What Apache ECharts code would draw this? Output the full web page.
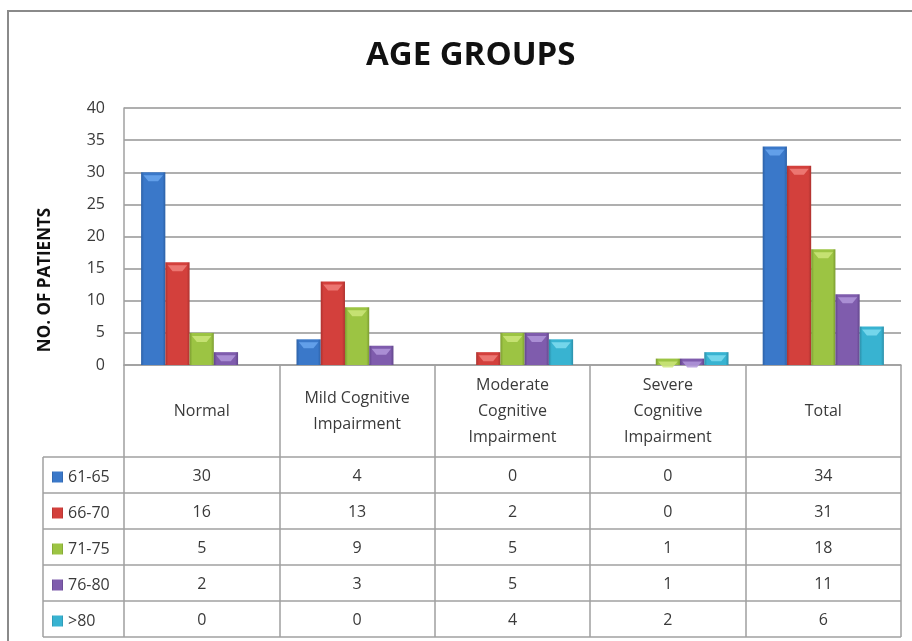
<!DOCTYPE html>
<html>
<head>
<meta charset="utf-8">
<script src="https://cdn.jsdelivr.net/npm/echarts@6/dist/echarts.min.js"></script>
<style>
  html, body { margin: 0; padding: 0; background: #ffffff; }
  #chart { width: 912px; height: 641px; }
</style>
</head>
<body>
<div id="chart"></div>
<script>
// Categories along the x axis (header row of the data table)
const categories = ['Normal', 'Mild Cognitive\nImpairment', 'Moderate\nCognitive\nImpairment', 'Severe\nCognitive\nImpairment', 'Total'];
// Age groups (one bar series + one table row each)
const ageGroups = ['61-65', '66-70', '71-75', '76-80', '>80'];
// Number of patients per category for each age group
const age61to65 = [30, 4, 0, 0, 34];
const age66to70 = [16, 13, 2, 0, 31];
const age71to75 = [5, 9, 5, 1, 18];
const age76to80 = [2, 3, 5, 1, 11];
const ageOver80 = [0, 0, 4, 2, 6];
// Value axis ticks
const yMin = 0, yMax = 40, yStep = 5;

const seriesValues = [age61to65, age66to70, age71to75, age76to80, ageOver80];

// Shades per series: [edge, body, highlight]
const palette = [
  ['#2d61a6', '#3a78c9', '#6aa6ee'],
  ['#ad322f', '#d3403c', '#f0807a'],
  ['#7c9c31', '#9cc443', '#cde67a'],
  ['#62468b', '#7f5cad', '#b196da'],
  ['#2c8fa9', '#38b3d1', '#7fdcf0']
];

function bevelFill(c) {
  return new echarts.graphic.LinearGradient(0, 0, 1, 0, [
    { offset: 0, color: c[0] },
    { offset: 0.12, color: c[1] },
    { offset: 0.45, color: c[1] },
    { offset: 0.88, color: c[1] },
    { offset: 1, color: c[0] }
  ]);
}

// Layout of plot area and table
const gridLeft = 124, gridTop = 108, gridRight = 11, gridBottom = 276;
const axisY = 365;            // baseline of the bars / top of the table
const headerH = 92;           // header row height
const rowH = 36;              // data row height
const tableLeft = 43;
const tableRight = 912 - gridRight;
const textColor = '#3a3a3a';
const lineColor = '#a0a0a0';
const font = '"Open Sans", "Noto Sans", sans-serif';

const chart = echarts.init(document.getElementById('chart'), null, { renderer: 'canvas' });

const xAxes = [{
  type: 'category',
  data: categories,
  gridIndex: 0,
  position: 'bottom',
  axisLine: { show: true, lineStyle: { color: lineColor, width: 1.5 } },
  axisTick: { show: true, inside: false, length: headerH + rowH * ageGroups.length, lineStyle: { color: lineColor, width: 1.5 } },
  axisLabel: {
    show: true, interval: 0, color: textColor, fontFamily: font, fontSize: 16,
    lineHeight: 26, verticalAlign: 'middle', align: 'center', margin: headerH / 2
  },
  splitLine: { show: false }
}];

// One extra axis per table row, labelled with that row's values
seriesValues.forEach((vals, r) => {
  xAxes.push({
    type: 'category',
    data: categories,
    gridIndex: 0,
    position: 'bottom',
    axisLine: { show: false },
    axisTick: { show: false },
    axisLabel: {
      show: true, interval: 0, color: textColor, fontFamily: font, fontSize: 16,
      verticalAlign: 'middle', align: 'center',
      margin: headerH + rowH * r + rowH / 2 + 1,
      formatter: (v, i) => String(vals[i])
    },
    splitLine: { show: false }
  });
});

const barSeries = seriesValues.map((vals, i) => ({
  name: ageGroups[i],
  type: 'bar',
  data: vals,
  barGap: '0%',
  barCategoryGap: '22%',
  itemStyle: { color: bevelFill(palette[i]) },
  emphasis: { disabled: true }
}));

// Light chevron capping each bar
const capSeries = seriesValues.map((vals, i) => ({
  name: ageGroups[i] + ' cap',
  type: 'pictorialBar',
  data: vals.map(v => v === 0 ? { value: v, symbol: 'none' } : v),
  barGap: '0%',
  barCategoryGap: '22%',
  symbol: 'path://M0,0 L24,0 L18,7 L6,7 Z',
  symbolSize: ['80%', 6],
  symbolPosition: 'end',
  symbolOffset: [0, '50%'],
  itemStyle: { color: palette[i][2], opacity: 0.85 },
  silent: true,
  z: 3
}));

// Table rules and frame
const graphics = [
  { type: 'polyline', shape: { points: [[8, 641], [8, 11], [912, 11]] }, style: { stroke: '#8a8a8a', lineWidth: 2, fill: null } },
  { type: 'line', shape: { x1: tableLeft, y1: axisY + headerH, x2: tableLeft, y2: axisY + headerH + rowH * ageGroups.length }, style: { stroke: lineColor, lineWidth: 1.5 } },
  {
    type: 'text', x: 45, y: 280, rotation: Math.PI / 2,
    style: { text: 'NO. OF PATIENTS', font: 'bold 17px ' + font, fill: '#111', align: 'center', verticalAlign: 'middle' }
  }
];
for (let k = 0; k <= ageGroups.length; k++) {
  const y = axisY + headerH + rowH * k;
  graphics.push({ type: 'line', shape: { x1: tableLeft, y1: y, x2: tableRight, y2: y }, style: { stroke: lineColor, lineWidth: 1.5 } });
}

const option = {
  backgroundColor: '#ffffff',
  animation: false,
  title: {
    text: 'AGE GROUPS', left: 361, top: 34,
    textStyle: { fontFamily: font, fontWeight: 'bold', fontSize: 33, color: '#111' }
  },
  legend: {
    data: ageGroups,
    orient: 'vertical',
    left: 47, top: axisY + headerH + 7,
    itemWidth: 11, itemHeight: 11, itemGap: 20,
    icon: 'rect', selectedMode: false,
    textStyle: { fontFamily: font, fontSize: 16, color: textColor, lineHeight: 16, padding: [0, 0, 0, 0] }
  },
  grid: { left: gridLeft, top: gridTop, right: gridRight, bottom: gridBottom, containLabel: false },
  xAxis: xAxes,
  yAxis: {
    type: 'value', min: yMin, max: yMax, interval: yStep,
    axisLine: { show: true, lineStyle: { color: lineColor, width: 1.5 } },
    axisTick: { show: false },
    axisLabel: { color: textColor, fontFamily: font, fontSize: 16, margin: 19 },
    splitLine: { show: true, lineStyle: { color: '#959595', width: 1.5 } }
  },
  series: barSeries.concat(capSeries),
  graphic: graphics
};

chart.setOption(option);
</script>
</body>
</html>
